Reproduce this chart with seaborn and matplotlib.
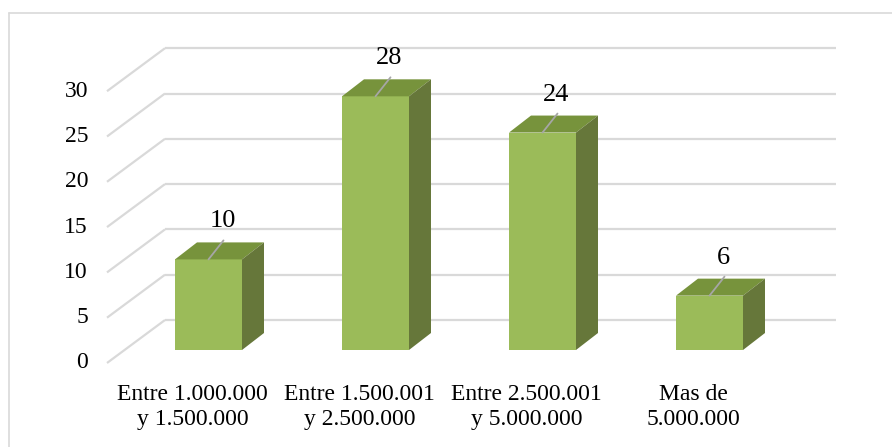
import matplotlib
matplotlib.use("Agg")
import matplotlib.pyplot as plt
from matplotlib.patches import Polygon
from matplotlib.lines import Line2D
import seaborn as sns
import pandas as pd

# Data
categories = ["Entre 1.000.000\ny 1.500.000", "Entre 1.500.001\ny 2.500.000",
              "Entre 2.500.001\ny 5.000.000", "Mas de\n5.000.000"]
values = [10, 28, 24, 6]
y_ticks = [0, 5, 10, 15, 20, 25, 30]

sns.set_theme(style="white")
plt.rcParams["font.family"] = ["Liberation Serif", "DejaVu Serif"]

W, H, DPI = 892, 447, 100
fig = plt.figure(figsize=(W / DPI, H / DPI), dpi=DPI)
ax = fig.add_axes([0, 0, 1, 1])

# pixel geometry of the pseudo-3D layout
x0_px, step_px = 208.5, 167.0       # centre of first bar front face, spacing
base_px = 350.0                     # bar front base (from top)
unit_px = 9.06                      # pixels per value unit

def px_to_x(px):
    return (px - x0_px) / step_px

def py_to_y(py):
    return (base_px - py) / unit_px

ax.set_xlim(px_to_x(0), px_to_x(W))
ax.set_ylim(py_to_y(H), py_to_y(0))
ax.axis("off")

DX = 1.0 / step_px   # one pixel in x data units
DY = 1.0 / unit_px   # one pixel in y data units

grid_c = "#D9D9D9"
front_c = "#9BBB59"
top_c = "#77933C"
side_c = "#66773A"

# chart frame (left and top edges visible)
fig.add_artist(Line2D([9 / W, 9 / W], [0, 1 - 13 / H], transform=fig.transFigure,
                      color=grid_c, lw=1.2))
fig.add_artist(Line2D([9 / W, 1], [1 - 13 / H, 1 - 13 / H], transform=fig.transFigure,
                      color=grid_c, lw=1.2))

# back wall gridlines and side-wall diagonals
back_left, back_right = px_to_x(165), px_to_x(836)
front_left = px_to_x(107)
back_off = 30 * DY      # back wall base sits 30 px above bar base
front_off = -13 * DY    # floor front edge 13 px below bar base
for t in y_ticks:
    ax.plot([back_left, back_right], [t + back_off, t + back_off],
            color=grid_c, lw=1.6, zorder=1, solid_capstyle="butt")
    ax.plot([front_left, back_left], [t + front_off, t + back_off],
            color=grid_c, lw=1.6, zorder=1, solid_capstyle="butt")
    ax.text(px_to_x(88), t + front_off, str(t), ha="right", va="center",
            fontsize=17, color="#000000")

# front faces of the bars
df = pd.DataFrame({"cat": categories, "val": values})
sns.barplot(data=df, x="cat", y="val", color=front_c, width=67 / step_px,
            saturation=1, ax=ax, zorder=3, linewidth=0)
ax.set_xlim(px_to_x(0), px_to_x(W))
ax.set_ylim(py_to_y(H), py_to_y(0))
ax.axis("off")

# depth faces (top and right side) built from each bar
ddx, ddy = 22 * DX, 17 * DY
for bar, v in zip(ax.patches, values):
    x, w, h = bar.get_x(), bar.get_width(), bar.get_height()
    top = Polygon([(x, h), (x + w, h), (x + w + ddx, h + ddy), (x + ddx, h + ddy)],
                  closed=True, facecolor=top_c, edgecolor="none", zorder=3)
    side = Polygon([(x + w, 0), (x + w + ddx, ddy), (x + w + ddx, h + ddy), (x + w, h)],
                   closed=True, facecolor=side_c, edgecolor="none", zorder=3)
    ax.add_patch(top)
    ax.add_patch(side)
    cx = x + w / 2
    # leader line and value label
    ax.plot([cx, cx + 15 * DX], [h, h + 19 * DY], color="#A6A6A6", lw=1.3, zorder=4)
    ax.text(cx + 14 * DX, h + 38 * DY, f"{v}", ha="center", va="center",
            fontsize=19, color="#000000", zorder=5)

# category labels
for i, c in enumerate(categories):
    ax.text(i - 16 * DX, py_to_y(407), c, ha="center", va="center",
            fontsize=17, linespacing=1.22, color="#000000")

fig.savefig("out.png", dpi=DPI)
